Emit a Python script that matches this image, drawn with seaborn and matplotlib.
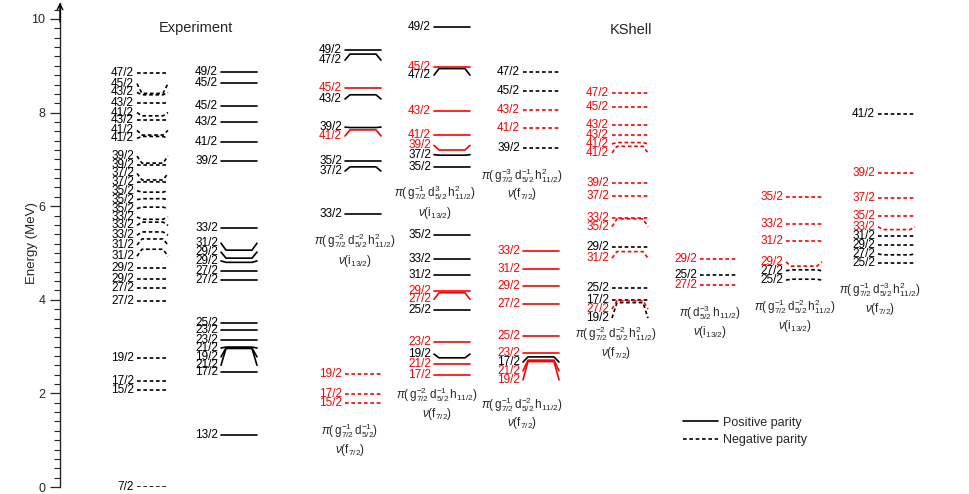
import numpy as np
import pandas as pd
import seaborn as sns
import matplotlib.pyplot as plt
from matplotlib.lines import Line2D
from matplotlib.ticker import MultipleLocator

sns.set_style("white")
plt.rcParams["font.family"] = ["Liberation Sans", "DejaVu Sans"]
plt.rcParams["mathtext.fontset"] = "custom"
plt.rcParams["mathtext.rm"] = "Liberation Sans"
plt.rcParams["mathtext.it"] = "Liberation Sans:italic"

# ---- level data: spin, level energy (MeV), energy where the label sits, red? ----
# Experiment, negative parity
exp_neg_spin = ["47/2", "45/2", "43/2", "43/2", "41/2", "43/2", "41/2", "41/2",
                "39/2", "39/2", "37/2", "37/2", "35/2", "35/2", "35/2", "33/2",
                "33/2", "33/2", "31/2", "31/2", "29/2", "29/2", "27/2", "27/2",
                "19/2", "17/2", "15/2", "7/2"]
exp_neg_e = [8.85, 8.41, 8.38, 8.21, 7.93, 7.84, 7.52, 7.49, 6.92, 6.88, 6.56, 6.52,
             6.30, 6.16, 5.98, 5.72, 5.66, 5.45, 5.30, 5.08, 4.68, 4.45, 4.26, 3.97,
             2.76, 2.26, 2.07, 0.0]
exp_neg_lab = [8.85, 8.62, 8.43, 8.21, 8.00, 7.84, 7.62, 7.45, 7.07, 6.88, 6.70, 6.51,
               6.33, 6.14, 5.95, 5.77, 5.59, 5.38, 5.17, 4.93, 4.68, 4.45, 4.26, 3.97,
               2.76, 2.26, 2.07, 0.0]

# Experiment, positive parity
exp_pos_spin = ["49/2", "45/2", "45/2", "43/2", "41/2", "39/2", "33/2", "31/2", "29/2",
                "29/2", "27/2", "27/2", "25/2", "23/2", "23/2", "21/2", "19/2", "21/2",
                "17/2", "13/2"]
exp_pos_e = [8.87, 8.63, 8.14, 7.80, 7.37, 6.97, 5.53, 5.06, 4.89, 4.80, 4.62, 4.42,
             3.50, 3.35, 3.14, 2.99, 2.97, 2.96, 2.46, 1.11]
exp_pos_lab = [8.87, 8.63, 8.14, 7.80, 7.37, 6.97, 5.53, 5.21, 5.02, 4.83, 4.62, 4.42,
               3.50, 3.35, 3.14, 2.97, 2.78, 2.60, 2.46, 1.11]

# KShell, positive parity (three configurations)
ks3_spin = ["49/2", "47/2", "45/2", "43/2", "39/2", "41/2", "35/2", "37/2", "33/2"]
ks3_e = [9.34, 9.25, 8.53, 8.38, 7.68, 7.63, 6.97, 6.84, 5.83]
ks3_lab = [9.34, 9.12, 8.53, 8.29, 7.69, 7.50, 6.97, 6.75, 5.83]
ks3_red = [0, 0, 1, 0, 0, 1, 0, 0, 0]

ks4_spin = ["49/2", "45/2", "47/2", "43/2", "41/2", "39/2", "37/2", "35/2",
            "35/2", "33/2", "31/2", "29/2", "27/2", "25/2", "23/2", "19/2", "21/2", "17/2"]
ks4_e = [9.83, 8.97, 8.94, 8.03, 7.52, 7.20, 7.09, 6.84,
         5.38, 4.87, 4.53, 4.19, 4.15, 3.78, 3.10, 2.76, 2.63, 2.39]
ks4_lab = [9.83, 8.97, 8.80, 8.03, 7.52, 7.30, 7.10, 6.84,
           5.38, 4.87, 4.53, 4.19, 4.01, 3.78, 3.10, 2.84, 2.63, 2.39]
ks4_red = [0, 1, 0, 1, 1, 1, 0, 0, 0, 0, 0, 1, 1, 0, 1, 0, 1, 1]

ks5p_spin = ["33/2", "31/2", "29/2", "27/2", "25/2", "23/2", "17/2", "21/2", "19/2"]
ks5p_e = [5.04, 4.66, 4.29, 3.91, 3.23, 2.86, 2.78, 2.71, 2.68]
ks5p_lab = [5.04, 4.66, 4.29, 3.91, 3.23, 2.86, 2.67, 2.48, 2.29]
ks5p_red = [1, 1, 1, 1, 1, 1, 0, 1, 1]

# KShell, negative parity
ks3n_spin = ["19/2", "17/2", "15/2"]
ks3n_e = [2.41, 1.99, 1.79]
ks3n_red = [1, 1, 1]

ks5n_spin = ["47/2", "45/2", "43/2", "41/2", "39/2"]
ks5n_e = [8.87, 8.46, 8.06, 7.67, 7.24]
ks5n_red = [0, 0, 1, 1, 0]

ks6_spin = ["47/2", "45/2", "43/2", "43/2", "41/2", "41/2", "39/2", "37/2", "33/2",
            "35/2", "29/2", "31/2", "25/2", "17/2", "27/2", "19/2"]
ks6_e = [8.42, 8.12, 7.74, 7.52, 7.36, 7.28, 6.50, 6.22, 5.75, 5.73, 5.13, 5.03,
         4.25, 4.00, 3.98, 3.94]
ks6_lab = [8.42, 8.12, 7.74, 7.52, 7.33, 7.14, 6.50, 6.22, 5.75, 5.56, 5.13, 4.89,
           4.25, 4.00, 3.80, 3.61]
ks6_red = [1, 1, 1, 1, 1, 1, 1, 1, 1, 1, 0, 1, 0, 0, 1, 0]

ks7_spin = ["29/2", "25/2", "27/2"]
ks7_e = [4.87, 4.53, 4.32]
ks7_red = [1, 0, 1]

ks8_spin = ["35/2", "33/2", "31/2", "29/2", "27/2", "25/2"]
ks8_e = [6.20, 5.62, 5.26, 4.72, 4.64, 4.44]
ks8_lab = [6.20, 5.62, 5.26, 4.81, 4.62, 4.42]
ks8_red = [1, 1, 1, 1, 0, 0]

ks9_spin = ["41/2", "39/2", "37/2", "35/2", "33/2", "31/2", "29/2", "27/2", "25/2"]
ks9_e = [7.97, 6.71, 6.18, 5.79, 5.50, 5.36, 5.17, 4.96, 4.79]
ks9_lab = [7.97, 6.71, 6.18, 5.79, 5.56, 5.36, 5.17, 4.98, 4.79]
ks9_red = [0, 1, 1, 1, 1, 0, 0, 0, 0]

# configuration labels: text lines, centre x (px), energies
configs = [
    (r"$\pi(\,\mathrm{g}^{-2}_{7/2}\,\mathrm{d}^{-2}_{5/2}\,\mathrm{h}^{2}_{11/2})$", r"$\nu(\mathrm{i}_{13/2})$", 355, 5.26, 4.83),
    (r"$\pi(\,\mathrm{g}^{-1}_{7/2}\,\mathrm{d}^{-1}_{5/2})$", r"$\nu(\mathrm{f}_{7/2})$", 350, 1.20, 0.79),
    (r"$\pi(\,\mathrm{g}^{-1}_{7/2}\,\mathrm{d}^{3}_{5/2}\,\mathrm{h}^{2}_{11/2})$", r"$\nu(\mathrm{i}_{13/2})$", 435, 6.28, 5.85),
    (r"$\pi(\,\mathrm{g}^{-2}_{7/2}\,\mathrm{d}^{-1}_{5/2}\,\mathrm{h}_{11/2})$", r"$\nu(\mathrm{f}_{7/2})$", 437, 1.97, 1.56),
    (r"$\pi(\,\mathrm{g}^{-3}_{7/2}\,\mathrm{d}^{-1}_{5/2}\,\mathrm{h}^{2}_{11/2})$", r"$\nu(\mathrm{f}_{7/2})$", 522, 6.65, 6.26),
    (r"$\pi(\,\mathrm{g}^{-1}_{7/2}\,\mathrm{d}^{-2}_{5/2}\,\mathrm{h}_{11/2})$", r"$\nu(\mathrm{f}_{7/2})$", 522, 1.77, 1.37),
    (r"$\pi(\,\mathrm{g}^{-2}_{7/2}\,\mathrm{d}^{-2}_{5/2}\,\mathrm{h}^{2}_{11/2})$", r"$\nu(\mathrm{f}_{7/2})$", 616, 3.27, 2.86),
    (r"$\pi(\,\mathrm{d}^{-3}_{5/2}\,\mathrm{h}_{11/2})$", r"$\nu(\mathrm{i}_{13/2})$", 710, 3.72, 3.31),
    (r"$\pi(\,\mathrm{g}^{-1}_{7/2}\,\mathrm{d}^{-2}_{5/2}\,\mathrm{h}^{2}_{11/2})$", r"$\nu(\mathrm{i}_{13/2})$", 795, 3.85, 3.44),
    (r"$\pi(\,\mathrm{g}^{-1}_{7/2}\,\mathrm{d}^{-3}_{5/2}\,\mathrm{h}^{2}_{11/2})$", r"$\nu(\mathrm{f}_{7/2})$", 880, 4.21, 3.80),
]

# ---- layout: (spins, energies, label energies, red flags, parity, x0, x1) in px ----
groups = [
    (exp_neg_spin, exp_neg_e, exp_neg_lab, [0] * len(exp_neg_e), "neg", 137, 168),
    (exp_pos_spin, exp_pos_e, exp_pos_lab, [0] * len(exp_pos_e), "pos", 221, 257),
    (ks3_spin, ks3_e, ks3_lab, ks3_red, "pos", 345, 381),
    (ks3n_spin, ks3n_e, ks3n_e, ks3n_red, "neg", 345, 381),
    (ks4_spin, ks4_e, ks4_lab, ks4_red, "pos", 434, 470),
    (ks5n_spin, ks5n_e, ks5n_e, ks5n_red, "neg", 523, 559),
    (ks5p_spin, ks5p_e, ks5p_lab, ks5p_red, "pos", 523, 559),
    (ks6_spin, ks6_e, ks6_lab, ks6_red, "neg", 612, 648),
    (ks7_spin, ks7_e, ks7_e, ks7_red, "neg", 700, 737),
    (ks8_spin, ks8_e, ks8_lab, ks8_red, "neg", 786, 822),
    (ks9_spin, ks9_e, ks9_lab, ks9_red, "neg", 878, 915),
]

bend = 5
rows = []
texts = []
uid = 0
for spins, es, labs, reds, par, x0, x1 in groups:
    for s, e, lab, r in zip(spins, es, labs, reds):
        col = "r" if r else "k"
        if abs(lab - e) < 0.005:
            pts = [(x0, e), (x1, e)]
        else:
            pts = [(x0, lab), (x0 + bend, e), (x1 - bend, e), (x1, lab)]
        for i, (px, py) in enumerate(pts):
            rows.append({"x": px, "E": py, "level": uid, "order": i,
                         "colour": col, "parity": par})
        texts.append((x0 - 3, lab, s, col))
        uid += 1

levels = pd.DataFrame(rows)

fig = plt.figure(figsize=(9.69, 4.94), dpi=100)
ax = fig.add_axes([60 / 969, 7 / 494, 909 / 969, 484.4 / 494])

sns.lineplot(data=levels, x="x", y="E", units="level", estimator=None, sort=False,
             hue="colour", style="parity",
             palette={"k": "black", "r": "#ff0000"},
             dashes={"pos": "", "neg": (2.2, 1.6)},
             linewidth=1.2, legend=False, ax=ax)

for tx, ty, s, col in texts:
    ax.text(tx, ty, s, ha="right", va="center", fontsize=8.5,
            color="black" if col == "k" else "#ff0000")

for top, bottom, cx, e1, e2 in configs:
    ax.text(cx, e1, top, ha="center", va="center", fontsize=8.5)
    ax.text(cx, e2, bottom, ha="center", va="center", fontsize=8.5)

ax.text(196, 9.81, "Experiment", ha="center", va="center", fontsize=10.5)
ax.text(631, 9.76, "KShell", ha="center", va="center", fontsize=10.5)

handles = [Line2D([], [], color="black", lw=1.2),
           Line2D([], [], color="black", lw=1.2, ls=(0, (2.2, 1.6)))]
ax.legend(handles, ["Positive parity", "Negative parity"], loc="upper left",
          bbox_to_anchor=(683, 1.50), bbox_transform=ax.transData,
          frameon=False, fontsize=9, handlelength=2.8, handletextpad=0.4,
          labelspacing=0.45, borderaxespad=0, borderpad=0)

ax.set_xlim(60, 969)
ax.set_ylim(0, 10.35)
for side in ["top", "right", "bottom"]:
    ax.spines[side].set_visible(False)
ax.spines["left"].set_linewidth(1.0)
ax.set_xticks([])
ax.set_yticks(np.arange(0, 11, 2))
ax.yaxis.set_minor_locator(MultipleLocator(0.2))
ax.tick_params(axis="y", which="major", direction="out", length=7, width=0.9,
               labelsize=9, left=True)
ax.tick_params(axis="y", which="minor", direction="out", length=4, width=0.8, left=True)
ax.set_xlabel("")
ax.set_ylabel("Energy (MeV)", fontsize=9.5)
ax.yaxis.set_label_coords(-0.024, 0.503)
ax.annotate("", xy=(0, 1.0), xytext=(0, 0.96), xycoords="axes fraction",
            arrowprops=dict(arrowstyle="->", lw=1.0, color="black",
                            shrinkA=0, shrinkB=0))

fig.savefig("out.png", dpi=100)
